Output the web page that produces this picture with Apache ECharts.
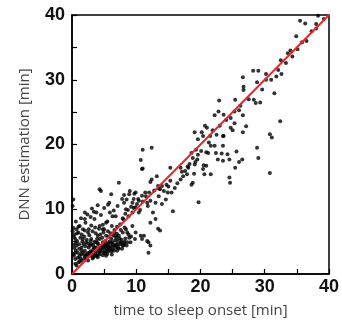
<!DOCTYPE html>
<html>
<head>
    <meta charset="utf-8"/>
    <title>ECharts</title>
    <script src="https://cdn.jsdelivr.net/npm/echarts@6/dist/echarts.min.js"></script>
</head>
<body style="margin:0">
<div id="main" style="width: 342px; height: 323px"></div>
<script type="text/javascript">
    // axis settings
    var axisMin = 0, axisMax = 40, tickStep = 5, labelStep = 10;
    var xName = 'time to sleep onset [min]';
    var yName = 'DNN estimation [min]';
    // identity line (x = y)
    var refLine = [[0, 0], [40, 40]];

    // points: [time to sleep onset, DNN estimation]
    var pointsLow = [
        [0.2, 11.5], [0.1, 10.5], [2, 9.5], [2, 8.5], [1.7, 6.9], [1.2, 7.4], [0.7, 6.9], [1, 6.4], [0.5, 5.4], [0.7, 4.4],
        [0.5, 3.3], [0.5, 2.3], [2.5, 6.4], [3, 5.4], [2.2, 4.9], [1.5, 4.1], [1.7, 3.3], [1.2, 2.8], [3.4, 4.1], [3.8, 4.9],
        [2.8, 4.4], [4.3, 5.4], [4.8, 4.9], [5.2, 3.6], [5.8, 3.6], [6.3, 3.8], [5.3, 2.8], [1, 1.8], [0.7, 1.3], [1.5, 2.1],
        [2.2, 2.3], [4.3, 13.1], [4.5, 12.8], [3.8, 9.5], [3.5, 8.5], [4.3, 7.4], [4.9, 6.4], [5.3, 5.9], [6.1, 5.4], [6.3, 4.9],
        [6.6, 6.4], [5.5, 4.4], [4.9, 4.1], [4.3, 3.3], [3.8, 2.8], [3.3, 2.6], [2.8, 2.8], [2.2, 2.8], [7.3, 14.1], [6.3, 8.9],
        [6.1, 12.3], [5.8, 11], [5.9, 9.5], [5.3, 7.9], [4.8, 6.9], [7.3, 5.9], [7.6, 4.9], [8, 4.4], [7.1, 5.1], [6.8, 4.1],
        [0.3, 2.8], [0.6, 3.6], [0.9, 2.5], [1.1, 3.9], [1.4, 3.1], [1.8, 4.6], [2.0, 3.6], [2.4, 3.2], [2.6, 4.1], [2.9, 3.5],
        [3.1, 2.9], [3.3, 3.8], [3.6, 3.2], [3.9, 2.9], [4.1, 3.9], [4.4, 3.5], [4.6, 4.4], [4.9, 3.3], [5.1, 4.2], [5.4, 3.9],
        [5.6, 4.7], [5.9, 4.3], [6.1, 3.5], [6.4, 4.5], [6.7, 5.2], [6.9, 4.6], [7.2, 4.1], [7.4, 5.5], [7.7, 4.8], [8.2, 5.0],
        [8.5, 4.4], [8.9, 5.6], [3.0, 4.6], [3.5, 5.0], [4.0, 4.8], [4.7, 5.6], [5.2, 5.1], [5.7, 5.8], [6.0, 6.3], [6.6, 6.8],
        [1.3, 5.6], [1.6, 5.0], [2.3, 5.3], [2.7, 6.0], [3.2, 6.6], [3.7, 6.3], [4.2, 7.0], [4.8, 7.6], [5.5, 8.1], [6.2, 7.4],
        [0.4, 6.1], [0.8, 5.1], [0.2, 4.5], [1.0, 7.3], [2.1, 7.9], [2.9, 8.8], [3.4, 9.6], [4.5, 9.1], [5.0, 10.2], [5.6, 10.7],
        [0.5, 1.6], [1.2, 1.9], [1.9, 2.4], [2.5, 2.1], [3.2, 2.4], [4.0, 2.6], [4.8, 2.9], [5.5, 3.1], [6.2, 3.0], [7.0, 3.6],
        [7.8, 3.9]
    ];
    // extra points filling the dense cluster near the origin
    var pointsCluster = [
        [0.2, 3.1], [0.4, 4.0], [0.6, 4.8], [0.3, 5.7], [0.9, 3.3], [1.1, 4.6], [1.3, 2.4], [1.5, 3.6], [1.7, 5.4], [1.9, 2.9],
        [2.1, 4.3], [2.3, 3.0], [2.5, 4.7], [2.7, 3.3], [2.9, 5.1], [3.1, 3.4], [3.3, 4.5], [3.5, 2.8], [3.7, 4.1], [3.9, 3.5],
        [4.1, 4.5], [4.3, 3.0], [4.5, 4.0], [4.7, 3.7], [4.9, 4.6], [5.1, 3.2], [5.3, 4.5], [5.5, 3.5], [5.7, 4.1], [5.9, 3.9],
        [6.1, 4.8], [6.3, 4.2], [6.5, 3.6], [6.7, 4.4], [6.9, 5.6], [7.1, 4.5], [7.3, 3.9], [7.5, 4.6], [7.7, 5.3], [7.9, 4.4],
        [8.1, 4.7], [8.3, 5.5], [8.6, 4.9], [8.8, 6.1], [9.2, 5.8], [0.8, 6.3], [1.5, 6.1], [2.0, 6.7], [2.6, 6.9], [3.0, 7.5],
        [3.6, 7.2], [4.0, 5.9], [4.4, 6.1], [5.0, 6.9], [5.6, 6.6], [6.4, 5.9], [7.0, 6.2], [7.6, 6.8], [8.2, 7.2], [0.2, 7.1],
        [0.6, 8.1], [1.4, 8.6], [2.4, 9.2], [3.1, 10.1], [4.0, 10.6], [0.1, 6.6], [1.9, 5.8], [3.9, 5.4], [5.8, 5.0], [6.8, 5.9]
    ];
    var pointsMid = [
        [11.4, 12.6], [11.7, 11], [11.8, 10.5], [12.2, 11.3], [12.2, 7.9], [11.9, 4.9], [12.2, 4.4], [11.9, 3.3], [11.7, 5.1], [10.9, 12.1],
        [10.4, 11.3], [9.9, 12.6], [9.6, 11.6], [9.4, 11.0], [9.9, 10.3], [10.4, 9.5], [9.4, 9.5], [8.9, 12.3], [8.5, 11.5], [8.1, 11],
        [8.4, 10.0], [8.8, 8.9], [8, 8.4], [9.4, 7.4], [9.9, 6.4], [10.7, 5.9], [10.9, 5.4], [11.2, 5.9], [9.8, 5.4], [9.1, 4.9],
        [8.6, 6.4], [8.4, 6.9], [7.9, 6.4], [6.5, 9.8], [7.1, 10.5], [7.8, 11.6], [8.1, 12.2], [9.0, 12.8], [9.7, 12.4], [10.3, 11.6],
        [7.0, 7.3], [7.5, 7.7], [7.9, 8.6], [8.3, 9.3], [8.7, 9.9], [9.2, 10.4], [9.6, 10.2], [10.1, 10.8], [10.6, 9.9], [6.8, 8.9],
        [16, 13.3], [15.3, 16.4], [15.3, 14.4], [15.5, 12.6], [14.7, 13.8], [14.9, 12.6], [14, 13.6], [13.7, 13.1], [13.2, 15.1], [13.4, 13.6],
        [15.7, 9.7], [14.6, 11.5], [14, 10.8], [13.5, 12], [13, 11], [13, 8.5], [12.6, 9.5], [13.4, 7], [13.7, 6.7], [12.2, 14.2],
        [12.4, 14.6], [12.4, 19.5], [11, 19.2], [10.7, 17.6], [11, 16.3], [10.9, 16.2], [11.0, 11.2], [11.5, 12.0], [12.0, 12.6], [12.8, 12.9],
        [13.5, 13.2], [14.3, 12.8], [15.0, 13.5], [16.4, 14.0], [17.1, 15.8], [18.0, 16.6], [19.2, 17.3]
    ];
    var pointsHigh = [
        [35.5, 39.1], [36.3, 38.7], [38, 38.6], [38, 37.9], [39.2, 39.4], [38.3, 39.9], [34.9, 36.7], [35.8, 35.8], [35.1, 34.7], [34.3, 33.6],
        [33.6, 34.1], [33.3, 32.6], [32.6, 30.9], [32.1, 31.5], [31.8, 30.5], [31.5, 27.9], [30.2, 30.9], [30.2, 30.0], [29, 31.4], [28.2, 31.4],
        [28.8, 29.6], [29.3, 26.5], [28.3, 26.9], [28.6, 26.4], [26.6, 30.4], [26.7, 28.9], [26.7, 28.4], [26.2, 26.0], [26.6, 24.5], [27.1, 22.8],
        [26.6, 21.9], [25.4, 26.9], [25.3, 25.1], [24.7, 24.1], [25.3, 23.3], [24.7, 22.6], [25, 22.2], [22.9, 26.8], [22.8, 25.1], [23.6, 24.6],
        [23.6, 21.3], [22.2, 24.5], [21.9, 22.2], [21.5, 21.3], [20.7, 22.9], [21, 22.6], [20.2, 21.9], [20.4, 21.3], [19.6, 20.8], [19.1, 21.9],
        [32.4, 23.6], [30.8, 21.6], [31.1, 21.1], [30.8, 15.6], [29, 17.9], [28.8, 19.5], [26.5, 17.7], [26, 17.3], [25.6, 18.9], [25.4, 16.4],
        [24.2, 18.5], [24.5, 17.7], [24.5, 14.9], [24.6, 14.1], [23.5, 21.3], [23.5, 19.8], [23.3, 18.6], [23.5, 17.5], [22.2, 19.8], [22.4, 18.7],
        [22.7, 17.7], [21.6, 19.8], [21.2, 18.7], [20.9, 18.8], [20.5, 16.8], [20.9, 16.7], [20.4, 16.2], [21.6, 15.4], [20.6, 15.4], [19.5, 17.7],
        [19.6, 18.4], [19.7, 11.1], [19.3, 19.2], [18.6, 18.7], [18.8, 17.9], [19.1, 16.9], [18.3, 17.0], [18.1, 16.4], [17.6, 15.9], [17.9, 15.4],
        [17.3, 15.1], [16.9, 16.4], [16.9, 14.6], [19, 15.5], [18.8, 14.1], [18.6, 13.8], [20.1, 19.0], [21.3, 20.3], [22.5, 21.5], [23.0, 22.9],
        [24.0, 23.8], [26.0, 25.3], [27.5, 27.0], [29.6, 28.5], [31.0, 30.0], [32.5, 33.0], [34.0, 34.5], [36.5, 36.0], [37.3, 37.5]
    ];

    var myChart = echarts.init(document.getElementById("main"));

    function tickLabel(v) {
        return v % labelStep === 0 ? String(v) : '';
    }

    var axisCommon = {
        min: axisMin,
        max: axisMax,
        interval: tickStep,
        nameLocation: 'middle',
        nameTextStyle: {fontFamily: 'Open Sans', fontSize: 15, color: '#444'},
        axisLine: {lineStyle: {color: '#000', width: 1.5}},
        axisTick: {inside: true, length: 5, lineStyle: {color: '#000', width: 1.2}},
        axisLabel: {
            formatter: tickLabel,
            fontFamily: 'Liberation Sans',
            fontWeight: 'bold',
            fontSize: 18,
            color: '#111'
        },
        splitLine: {show: false}
    };

    var option = {
        animation: false,
        backgroundColor: '#fff',
        grid: {
            left: 72, right: 9, top: 15, bottom: 48,
            show: true, borderColor: '#000', borderWidth: 1.5
        },
        xAxis: Object.assign({}, axisCommon, {
            type: 'value',
            name: xName,
            nameGap: 29,
            axisLabel: Object.assign({}, axisCommon.axisLabel, {margin: 4})
        }),
        yAxis: Object.assign({}, axisCommon, {
            type: 'value',
            name: yName,
            nameGap: 40,
            axisLabel: Object.assign({}, axisCommon.axisLabel, {margin: 7})
        }),
        series: [
            {
                type: 'scatter',
                data: pointsLow.concat(pointsCluster, pointsMid, pointsHigh),
                symbolSize: 4,
                itemStyle: {color: '#000'}
            },
            {
                type: 'line',
                data: refLine,
                symbol: 'none',
                lineStyle: {color: '#e02b2b', width: 2}
            }
        ]
    };

    myChart.setOption(option);
</script>
</body>
</html>
